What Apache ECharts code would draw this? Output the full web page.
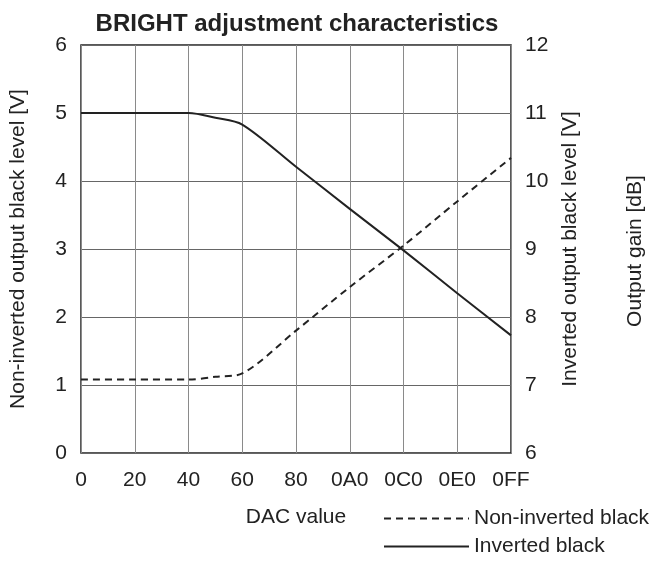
<!DOCTYPE html>
<html><head><meta charset="utf-8">
<script src="https://cdn.jsdelivr.net/npm/echarts@6/dist/echarts.min.js"></script>
<style>html,body{margin:0;padding:0;background:#fff}#c{width:653px;height:566px}</style>
</head><body><div id="c"></div>
<script>
const tickLabels = ['0','20','40','60','80','0A0','0C0','0E0','0FF'];
// x positions in tick steps (0 = "0", 8 = "0FF")
const xSteps = [0, 1, 2, 2.5, 3, 4, 5, 6, 7, 8];
const nonInverted = [1.08, 1.08, 1.08, 1.12, 1.17, 1.80, 2.44, 3.05, 3.70, 4.34];
const inverted = [5.0, 5.0, 5.0, 4.93, 4.83, 4.21, 3.59, 2.98, 2.35, 1.73];
const rightTicks = [6,7,8,9,10,11,12];

const FONT = 'Liberation Sans, Arial, sans-serif';
const FS = 21;
const chart = echarts.init(document.getElementById('c'));
chart.setOption({
  animation: false,
  title: { text: 'BRIGHT adjustment characteristics', left: 292, textAlign: 'center', top: 7,
    textStyle: { fontFamily: FONT, fontSize: 24, fontWeight: 'bold', color: '#222' } },
  grid: { left: 78, right: 142, top: 45, bottom: 113, show: true, borderColor: '#222', borderWidth: 1.5, containLabel: false },
  legend: { orient: 'vertical', left: 378, top: 503, itemWidth: 85, itemHeight: 10, itemGap: 7,
    itemStyle: { color: 'transparent', borderWidth: 0, opacity: 0 },
    textStyle: { fontFamily: FONT, fontSize: FS, color: '#222' }, data: ['Non-inverted black', 'Inverted black'] },
  xAxis: { type: 'value', min: 0, max: 8, interval: 1,
    name: 'DAC value', nameLocation: 'middle', nameGap: 54,
    nameTextStyle: { fontFamily: FONT, fontSize: FS, color: '#222' },
    axisLine: { show: false }, axisTick: { show: false },
    axisLabel: { margin: 17, fontFamily: FONT, fontSize: FS, color: '#222', formatter: v => tickLabels[Math.round(v)] },
    splitLine: { show: true, lineStyle: { color: '#8a8a8a', width: 1 } } },
  yAxis: [
    { type: 'value', min: 0, max: 6, interval: 1, position: 'left',
      name: 'Non-inverted output black level [V]', nameLocation: 'middle', nameGap: 52, nameRotate: 90,
      nameTextStyle: { fontFamily: FONT, fontSize: FS, color: '#222' },
      axisLine: { show: false }, axisTick: { show: false },
      axisLabel: { margin: 14, fontFamily: FONT, fontSize: FS, color: '#222' },
      splitLine: { show: true, lineStyle: { color: '#666', width: 1 } } },
    { type: 'value', min: 6, max: 12, interval: 1, position: 'right',
      name: 'Inverted output black level [V]', nameLocation: 'middle', nameGap: 42, nameRotate: 90,
      nameTextStyle: { fontFamily: FONT, fontSize: FS, color: '#222' },
      axisLine: { show: false }, axisTick: { show: false },
      axisLabel: { margin: 14, fontFamily: FONT, fontSize: FS, color: '#222' },
      splitLine: { show: false } }
  ],
  graphic: [{ type: 'text', x: 635, y: 251, rotation: Math.PI/2,
    style: { text: 'Output gain [dB]', fontFamily: FONT, fontSize: FS, fill: '#222', align: 'center', verticalAlign: 'middle' } }],
  series: [
    { name: 'Non-inverted black', type: 'line', yAxisIndex: 0, symbol: 'none', smooth: 0.3,
      data: xSteps.map((x,i)=>[x, nonInverted[i]]),
      lineStyle: { color: '#222', width: 2, type: [7,5] }, itemStyle: { color: '#222' } },
    { name: 'Inverted black', type: 'line', yAxisIndex: 0, symbol: 'none', smooth: 0.3,
      data: xSteps.map((x,i)=>[x, inverted[i]]),
      lineStyle: { color: '#222', width: 2 }, itemStyle: { color: '#222' } }
  ]
});
</script></body></html>
